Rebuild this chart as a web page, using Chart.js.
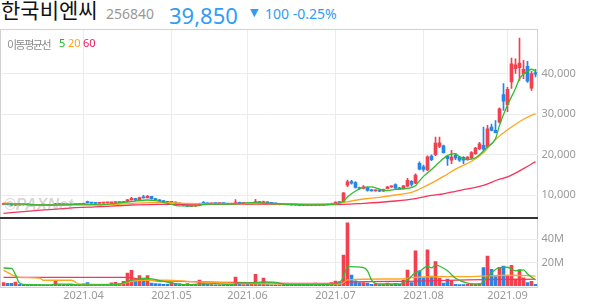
<!DOCTYPE html>
<html><head><meta charset="utf-8">
<script src="https://cdn.jsdelivr.net/npm/chart.js@4.4.1/dist/chart.umd.min.js"></script>
<style>
html,body{margin:0;padding:0;background:#fff;}
body{width:594px;height:304px;overflow:hidden;position:relative;}
.t{position:absolute;white-space:nowrap;line-height:1;}
#frame{position:absolute;left:0;top:29px;width:536px;height:257px;border:1px solid #d2d2d2;}
#sep{position:absolute;left:0;top:217px;width:538px;height:1px;background:#333;border-bottom:1px solid rgba(51,51,51,0.35);}
#pc{position:absolute;left:0;top:30px;}
#vc{position:absolute;left:0;top:218px;}
</style></head>
<body>
<div class="t" style="left:1px;top:-1px;font:21px 'Noto Sans CJK KR';color:#111;line-height:1;">한국비엔씨</div>
<div class="t" style="left:106px;top:4px;font:14px 'Noto Sans';color:#999;">256840</div>
<div class="t" style="left:169px;top:0px;font:22px 'Noto Sans';color:#2f9df4;">39,850</div>
<div class="t" style="left:250px;top:6px;font:11px 'DejaVu Sans';color:#2f9df4;">▼</div>
<div class="t" style="left:265px;top:4px;font:14px 'Noto Sans';color:#2f9df4;">100 -0.25%</div>
<div id="frame"></div>
<canvas id="pc" width="594" height="187"></canvas>
<canvas id="vc" width="594" height="86"></canvas>
<div id="sep"></div>
<div class="t" style="left:4px;top:196px;font:italic bold 16px 'Liberation Sans';color:rgba(140,140,140,0.35);">©PAXNet</div>
<div class="t" style="left:7px;top:36px;font:11px 'Noto Sans CJK KR';color:#8a8a8a;letter-spacing:-1.5px;">이동평균선</div>
<div class="t" style="left:59px;top:35px;font:11px 'Noto Sans';color:#22b422;">5</div>
<div class="t" style="left:68px;top:35px;font:11px 'Noto Sans';color:#ffa41b;">20</div>
<div class="t" style="left:83px;top:35px;font:11px 'Noto Sans';color:#f0195a;">60</div>
<script>
// ---- categories ----
const tradingDays = {
  '2021.03': [4,5,8,9,10,11,12,15,16,17,18,19,22,23,24,25,26,29,30,31],
  '2021.04': [1,2,5,6,7,8,9,12,13,14,15,16,19,20,21,22,23,26,27,28,29,30],
  '2021.05': [3,4,6,7,10,11,12,13,14,17,18,20,21,24,25,26,27,28,31],
  '2021.06': [1,2,3,4,7,8,9,10,11,14,15,16,17,18,21,22,23,24,25,28,29,30],
  '2021.07': [1,2,5,6,7,8,9,12,13,14,15,16,19,20,21,22,23,26,27,28,29,30],
  '2021.08': [2,3,4,5,6,9,10,11,12,13,17,18,19,20,23,24,25,26,27,30,31],
  '2021.09': [1,2,3,6,7,8,9,10]
};
const monthLabels = ['2021.04','2021.05','2021.06','2021.07','2021.08','2021.09'];
const priceTicks = [10000,20000,30000,40000];
const volumeTicks = [20,40]; // millions

// ---- series (price in KRW, volume in millions of shares) ----
const opens = [7650,7900,7650,7500,7750,7750,7600,7650,7500,7450,7550,7500,7400,7500,7800,7650,7700,7600,7650,7700,
 7700,8400,8100,8000,7950,8000,8050,8050,8150,8250,8150,8400,8800,9100,8700,9400,9300,9650,9100,8750,8550,8350,
 8200,8250,8000,7700,7450,7200,7300,7350,8150,7950,7850,7950,7900,7950,7900,7750,7800,8150,7950,
 8000,7700,7950,8400,8100,8300,8050,7950,7600,7650,7600,7700,7550,7650,7450,7500,7400,7450,7650,7500,7600,7700,
 7950,8300,8300,12450,13300,13050,11800,11600,11900,11250,11000,11200,10950,11550,12000,12550,11800,11550,12150,13350,12900,17800,
 16950,16200,19600,19950,22000,22150,19600,18600,19800,19350,19300,18750,19150,20200,21450,22250,21850,26800,25950,28000,34770,
 32300,37900,41200,41450,39950,41800,36400,40250];
const highs = [8000,7950,7750,7850,7800,7800,7750,7700,7600,7600,7650,7550,7550,7950,7850,7750,7750,7700,7750,7800,
 8000,8500,8150,8050,8050,8100,8150,8200,8300,8300,8450,8950,9400,9200,9500,9900,9900,9700,9150,8850,8650,8450,
 8350,8300,8050,7750,7500,7350,7400,8000,8400,8050,8000,8000,8000,8000,7950,7850,8850,8250,8050,
 8050,7950,8950,8450,8500,8350,8100,8000,7800,7800,7750,7750,7700,7700,7550,7550,7500,7700,7700,7650,7750,8000,
 8300,8400,10600,13700,13600,13300,11950,12300,12000,11400,11300,11250,11450,12100,12250,12750,11900,12400,14100,13550,15200,18200,
 17400,19700,19900,24300,24300,22300,19700,21000,20300,19600,19500,19500,20700,21800,23000,26800,27200,27500,28400,31500,37500,
 36600,43800,43600,48750,43250,43000,40550,41050];
const lows = [7600,7600,7450,7450,7500,7550,7500,7450,7350,7400,7450,7350,7350,7450,7600,7550,7550,7550,7600,7600,
 7650,8000,7950,7900,7900,7950,8000,8000,8100,8100,8100,8350,8700,8600,8650,9200,9250,9000,8650,8450,8250,8100,
 8050,7950,7650,7350,7100,7100,7150,7300,7900,7800,7800,7850,7850,7850,7700,7650,7750,7900,7850,
 7650,7650,7900,8050,8050,8000,7900,7800,7550,7600,7550,7500,7500,7400,7400,7350,7350,7400,7450,7450,7550,7650,
 7900,8050,8250,12050,12700,11700,11400,11500,10950,10950,10950,10800,10900,11500,11850,11600,11300,11500,12000,12200,12800,16200,
 15800,16000,18500,19700,21700,20300,17300,17750,18700,18300,17750,18600,19000,20000,21200,21000,21700,25800,25300,27800,30900,
 30600,36300,40000,38300,38700,37800,35850,39150];
const closes = [7900,7650,7500,7750,7550,7600,7650,7500,7450,7550,7500,7400,7500,7800,7650,7700,7600,7650,7700,7650,
 7950,8100,8000,7950,8000,8050,8100,8150,8250,8150,8400,8800,9150,8700,9350,9300,9700,9100,8750,8550,8350,8200,
 8300,8000,7700,7450,7200,7300,7350,7900,7950,7850,7950,7900,7950,7900,7750,7800,8150,7950,8000,
 7700,7900,8400,8100,8300,8050,7950,7850,7750,7750,7700,7550,7650,7450,7500,7400,7450,7650,7500,7600,7700,
 7950,8250,8150,10550,13250,12950,11850,11600,12000,11150,11000,11250,10950,11350,12000,12150,11700,11450,12250,13650,12600,14900,16350,
 16300,19400,18700,22800,22900,20450,19000,19350,19150,18600,18600,19350,20450,21600,22650,21300,26350,25950,25400,31300,33150,
 36100,42400,42150,42600,41000,38100,39950,39850];
const volumes = [3.0,2.2,2.2,3.4,1.5,1.2,1.0,1.0,0.9,0.9,0.8,0.8,0.8,4.6,1.2,0.9,0.8,0.8,0.8,0.9,
 1.8,3.0,1.2,1.0,1.0,1.2,1.2,2.8,3.2,2.0,4.0,11.0,13.4,5.4,8.8,6.8,9.0,2.5,2.0,1.8,1.5,1.5,
 3.0,1.5,1.8,1.5,2.0,1.5,1.2,5.0,2.0,1.5,1.2,1.0,1.0,1.0,1.2,1.0,7.7,2.0,1.2,
 1.5,1.5,10.0,2.0,6.8,1.5,1.0,1.0,1.0,1.0,1.0,1.2,1.5,1.2,1.0,1.0,1.0,2.5,1.5,1.2,1.2,
 3.0,4.3,3.7,26.5,54.0,9.4,4.5,3.0,3.0,2.5,1.5,1.8,1.2,1.5,2.5,1.5,2.0,1.5,5.1,13.7,3.0,30.0,13.0,
 7.0,30.8,8.5,20.8,6.6,2.5,6.0,4.6,1.5,1.3,1.3,1.5,1.8,1.5,2.0,15.7,25.6,14.3,8.0,16.0,17.0,
 9.0,17.7,6.0,14.0,7.0,3.0,4.0,1.5];

// moving-average lines: [trading-day index, value]
const priceMA5 = [[0,7800],[5,7750],[10,7530],[15,7550],[20,7780],[24,7550],[28,7950],[32,8350],[36,8770],[38,8600],[41,7950],[44,7300],[48,7300],[51,7780],[57,7780],[62,8100],[66,7950],[70,7780],[74,7600],[78,7550],[82,7700],[84,8000],[85,8400],[86,9500],[88,11000],[90,11900],[92,12000],[94,11450],[96,11100],[98,11400],[101,11650],[103,12300],[104,13500],[105,14600],[107,16300],[109,18150],[111,19800],[113,20200],[114,19400],[116,18750],[118,19200],[119,19950],[121,21900],[123,23900],[124,27200],[126,32200],[128,36300],[129,38700],[131,40550],[132,41050],[133,40600]];
const priceMA20 = [[0,8030],[8,7530],[20,7530],[28,7700],[37,8100],[41,8100],[45,7950],[53,7850],[65,7900],[74,7780],[82,7780],[84,7950],[87,8520],[90,9010],[94,9430],[98,10000],[102,10670],[104,11480],[107,12950],[110,14600],[113,16400],[117,18320],[120,20450],[123,23700],[127,26800],[130,28700],[133,30080]];
const priceMA60 = [[0,5480],[8,6130],[16,6720],[24,7120],[32,7530],[41,7700],[49,7780],[60,7780],[74,7650],[82,7600],[90,7950],[98,8520],[103,9100],[107,9900],[110,10300],[113,10910],[116,11500],[120,12390],[124,13900],[126,14450],[130,16500],[133,18250]];
const volMA5 = [[0,15.4],[2,15.0],[3,9.7],[4,2.6],[6,1.1],[12,1.0],[13,1.6],[17,1.5],[19,1.0],[28,1.1],[30,2.6],[32,5.0],[36,6.6],[38,5.4],[40,4.0],[42,2.6],[46,1.1],[49,1.8],[53,2.0],[57,1.1],[59,2.6],[62,2.6],[65,3.4],[68,3.0],[71,1.1],[75,1.1],[82,1.6],[84,3.0],[85,7.7],[86,16.5],[90,15.7],[91,13.0],[92,5.1],[94,1.7],[99,1.7],[101,5.1],[103,11.4],[104,12.5],[106,17.0],[107,15.5],[108,17.9],[111,13.0],[113,6.6],[116,2.5],[119,1.7],[121,8.0],[124,15.7],[126,16.0],[128,13.0],[130,13.8],[131,10.3],[133,5.1]];
const volMA20 = [[0,13.4],[4,7.4],[9,6.8],[10,4.9],[17,4.9],[19,1.5],[29,1.3],[31,3.4],[35,4.9],[41,4.9],[46,4.0],[50,3.4],[58,2.2],[66,1.8],[74,1.7],[84,1.7],[85,2.9],[86,5.2],[95,6.0],[99,6.0],[102,7.1],[107,7.9],[116,8.0],[121,8.6],[126,9.2],[133,8.5]];
const volMA60 = [[0,7.4],[31,7.4],[34,6.0],[38,4.5],[45,4.0],[50,3.4],[58,3.0],[66,2.6],[74,2.3],[84,2.3],[87,3.6],[100,4.0],[108,4.6],[116,5.2],[125,5.6],[133,5.8]];

// ---- build ----
const dates = [];
Object.keys(tradingDays).forEach(m => tradingDays[m].forEach(d => dates.push(m + '.' + String(d).padStart(2,'0'))));
const monthStarts = monthLabels.map(m => dates.findIndex(d => d.startsWith(m)));

const RED = '#f4404e', BLUE = '#2585e8';
const C5 = '#2fbd2f', C20 = '#ffa51f', C60 = '#f5355b';
const GRID = '#ececec', TXT = '#9a9a9a';
const upColor = ctx => closes[ctx.dataIndex] >= opens[ctx.dataIndex] ? RED : BLUE;
const knots = arr => arr.map(([i, v]) => ({x: dates[i], y: v}));
const lineDs = (arr, color) => ({type:'line', data: knots(arr), borderColor: color, borderWidth: 1.3,
  pointRadius: 0, fill: false, cubicInterpolationMode: 'monotone'});

Chart.defaults.font.family = '"Noto Sans", sans-serif';

function xAxis(showLabels) {
  return {
    type: 'category', offset: true,
    grid: {offset: false, color: GRID, drawTicks: false},
    border: {display: false},
    ticks: {display: showLabels, autoSkip: false, maxRotation: 0, minRotation: 0, color: TXT,
      font: {size: 11}, padding: 3,
      callback(v) { return this.getLabelForValue(v).slice(0, 7); }},
    afterBuildTicks(s) { s.ticks = monthStarts.map(v => ({value: v})); },
    afterFit(s) { s.paddingLeft = 0; s.paddingRight = 0; s.height = showLabels ? 18 : 0; }
  };
}
function yAxis(min, max, ticks, fmt) {
  return {
    position: 'right', min, max,
    grid: {color: GRID, drawTicks: false},
    border: {display: false},
    ticks: {color: TXT, font: {size: 11}, padding: 4, callback: fmt},
    afterBuildTicks(s) { s.ticks = ticks.map(v => ({value: v})); },
    afterFit(s) { s.width = 56.5; s.paddingTop = 0; s.paddingBottom = 0; }
  };
}
const common = {
  responsive: false, animation: false, devicePixelRatio: 1,
  layout: {padding: {left: 1.5, right: 0, top: 0, bottom: 0}},
  plugins: {legend: {display: false}, tooltip: {enabled: false}}
};

new Chart(document.getElementById('pc'), {
  type: 'bar',
  data: {
    labels: dates,
    datasets: [
      lineDs(priceMA5, C5),
      lineDs(priceMA20, C20),
      lineDs(priceMA60, C60),
      {data: dates.map((d, i) => [opens[i], closes[i]]), backgroundColor: upColor,
        barThickness: 3, minBarLength: 1, grouped: false, borderWidth: 0},
      {data: dates.map((d, i) => [lows[i], highs[i]]), backgroundColor: upColor,
        barThickness: 1, grouped: false, borderWidth: 0}
    ]
  },
  options: Object.assign({}, common, {
    scales: {
      x: xAxis(false),
      y: yAxis(4568, 50741, priceTicks, v => Number(v).toLocaleString('en-US'))
    }
  })
});

new Chart(document.getElementById('vc'), {
  type: 'bar',
  data: {
    labels: dates,
    datasets: [
      lineDs(volMA5, C5),
      lineDs(volMA20, C20),
      lineDs(volMA60, C60),
      {data: volumes, backgroundColor: upColor, barThickness: 3, minBarLength: 1, grouped: false, borderWidth: 0}
    ]
  },
  options: Object.assign({}, common, {
    scales: {
      x: xAxis(true),
      y: yAxis(0, 58.1, volumeTicks, v => v + 'M')
    }
  })
});
</script>
</body></html>
